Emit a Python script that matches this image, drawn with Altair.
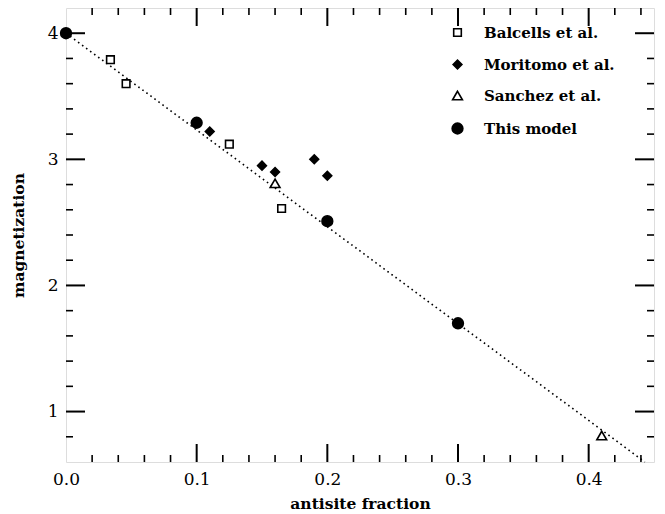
import altair as alt
import pandas as pd

# ---- data ----
series_names = ["Balcells et al.", "Moritomo et al.", "Sanchez et al.", "This model"]
balcells_x = [0.034, 0.046, 0.125, 0.165]
balcells_y = [3.79, 3.60, 3.12, 2.61]
moritomo_x = [0.11, 0.15, 0.16, 0.19, 0.20]
moritomo_y = [3.22, 2.95, 2.90, 3.00, 2.87]
sanchez_x = [0.16, 0.41]
sanchez_y = [2.81, 0.81]
model_x = [0.0, 0.1, 0.2, 0.3]
model_y = [4.0, 3.29, 2.51, 1.70]
fit_x = [0.0, 0.443]
fit_y = [4.0, 0.6]

x_labels = [0.0, 0.1, 0.2, 0.3, 0.4]
y_labels = [1, 2, 3, 4]
x_major = [0.1, 0.2, 0.3, 0.4]
x_minor = [0.02, 0.04, 0.06, 0.08, 0.12, 0.14, 0.16, 0.18, 0.22, 0.24, 0.26, 0.28,
           0.32, 0.34, 0.36, 0.38, 0.42, 0.44]
y_major = [1, 2, 3, 4]
y_minor = [0.8, 1.2, 1.4, 1.6, 1.8, 2.2, 2.4, 2.6, 2.8, 3.2, 3.4, 3.6, 3.8]

W, H = 588, 454
FONT = "DejaVu Serif"

rows = []
for name, xs, ys in [(series_names[0], balcells_x, balcells_y),
                     (series_names[1], moritomo_x, moritomo_y),
                     (series_names[2], sanchez_x, sanchez_y),
                     (series_names[3], model_x, model_y)]:
    for a, b in zip(xs, ys):
        rows.append({"x": a, "y": b, "series": name})
pts = pd.DataFrame(rows)
fit = pd.DataFrame({"x": fit_x, "y": fit_y})

xscale = alt.Scale(domain=[0, 0.45], nice=False, zero=False)
yscale = alt.Scale(domain=[0.6, 4.2], nice=False, zero=False)
XT = "antisite fraction"
YT = "magnetization"

xaxis = alt.Axis(values=x_labels, format=".1f", ticks=False, domain=False, grid=False,
                 labelFlush=False, labelOverlap=False,
                 labelFont=FONT, labelFontSize=17, labelColor="black", labelPadding=9,
                 titleFont=FONT, titleFontSize=15.5, titleFontWeight="bold", titleColor="black",
                 titlePadding=9)
yaxis = alt.Axis(values=y_labels, format="d", ticks=False, domain=False, grid=False,
                 labelFlush=False, labelOverlap=False,
                 labelFont=FONT, labelFontSize=17, labelColor="black", labelPadding=8,
                 titleFont=FONT, titleFontSize=15.5, titleFontWeight="bold", titleColor="black",
                 titlePadding=21)

line = alt.Chart(fit).mark_line(color="black", strokeWidth=1.6, strokeDash=[1.6, 3.4]).encode(
    x=alt.X("x:Q", scale=xscale, axis=xaxis, title=XT),
    y=alt.Y("y:Q", scale=yscale, axis=yaxis, title=YT),
)

legend = alt.Legend(orient="none", legendX=384, legendY=17, title=None,
                    labelFont=FONT, labelFontSize=15, labelFontWeight="bold", labelColor="black",
                    labelOffset=19, rowPadding=15, symbolStrokeColor="black",
                    symbolStrokeWidth=1.6, symbolOpacity=1, padding=0)

points = alt.Chart(pts).mark_point(filled=True, strokeWidth=1.6, opacity=1).encode(
    x=alt.X("x:Q", scale=xscale, title=XT),
    y=alt.Y("y:Q", scale=yscale, title=YT),
    shape=alt.Shape("series:N", sort=series_names,
                    scale=alt.Scale(domain=series_names,
                                    range=["square", "diamond", "triangle-up", "circle"]),
                    legend=legend),
    fill=alt.Fill("series:N", sort=series_names,
                  scale=alt.Scale(domain=series_names, range=["white", "black", "white", "black"]),
                  legend=legend),
    stroke=alt.Stroke("series:N", sort=series_names,
                      scale=alt.Scale(domain=series_names, range=["black", "black", "black", "black"]),
                      legend=legend),
    size=alt.Size("series:N", sort=series_names,
                  scale=alt.Scale(domain=series_names, range=[58, 115, 165, 95]),
                  legend=legend),
)

def ticks(df_vals, field, kind, length, width):
    df = pd.DataFrame({field: df_vals})
    base = alt.Chart(df).mark_rule(color="black", strokeWidth=width)
    if field == "x":
        enc = dict(x=alt.X("x:Q", scale=xscale, title=XT))
        if kind == "bottom":
            return base.encode(y=alt.value(H), y2=alt.value(H - length), **enc)
        return base.encode(y=alt.value(0), y2=alt.value(length), **enc)
    enc = dict(y=alt.Y("y:Q", scale=yscale, title=YT))
    if kind == "left":
        return base.encode(x=alt.value(0), x2=alt.value(length), **enc)
    return base.encode(x=alt.value(W), x2=alt.value(W - length), **enc)

tick_layers = [
    ticks(x_major, "x", "bottom", 18, 2), ticks(x_minor, "x", "bottom", 7, 1.6),
    ticks(x_major, "x", "top", 18, 2), ticks(x_minor, "x", "top", 7, 1.6),
    ticks(y_major, "y", "left", 19, 2), ticks(y_minor, "y", "left", 7, 1.6),
    ticks(y_major, "y", "right", 19, 2), ticks(y_minor, "y", "right", 7, 1.6),
]

chart = alt.layer(*tick_layers, line, points).properties(
    width=W, height=H,
    autosize=alt.AutoSizeParams(type="none"),
    padding={"left": 58, "top": 0, "right": 3, "bottom": 50},
).configure_view(stroke="black", strokeWidth=2).configure(background="white")

chart.save("out.html", embed_options={"renderer": "svg", "actions": False})
